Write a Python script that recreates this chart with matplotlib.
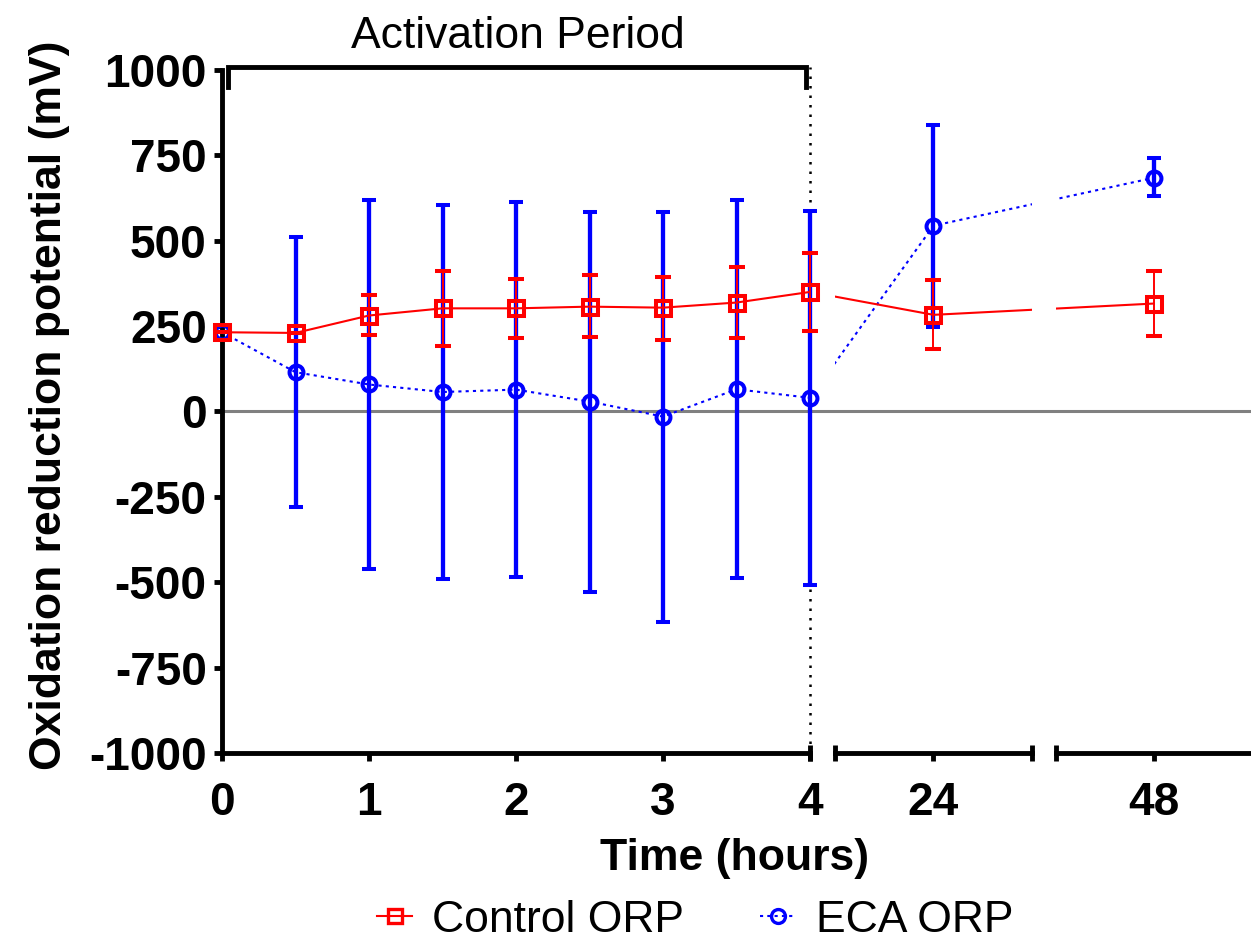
import matplotlib.pyplot as plt
import numpy as np
from matplotlib.lines import Line2D
from matplotlib.transforms import blended_transform_factory

plt.rcParams['font.family'] = ['Liberation Sans', 'DejaVu Sans']

# values (mV)
hours = [0, 0.5, 1, 1.5, 2, 2.5, 3, 3.5, 4, 24, 48]
control_mean = [232, 230, 281, 302, 302, 307, 304, 319, 350, 283, 316]
control_upper = [232, 230, 340, 410, 389, 401, 395, 423, 464, 384, 410]
control_lower = [232, 230, 223, 193, 214, 217, 208, 214, 235, 182, 220]
eca_mean = [232, 115, 79, 57, 64, 29, -15, 65, 40, 544, 684]
eca_upper = [232, 510, 618, 606, 613, 584, 584, 619, 587, 840, 741]
eca_lower = [232, -280, -462, -491, -485, -529, -617, -488, -507, 246, 630]

y_ticks = [-1000, -750, -500, -250, 0, 250, 500, 750, 1000]

# broken x axis: (hours from, hours to, position from, position to)
segments = [(0, 4, 0.0, 4.0), (20, 28, 4.17, 5.51), (44, 52, 5.673, 7.0)]
seg_ticks = [[0, 1, 2, 3, 4], [24], [48]]


def to_axis(h):
    for h0, h1, u0, u1 in segments:
        if h0 <= h <= h1:
            return u0 + (h - h0) * (u1 - u0) / (h1 - h0)
    return np.nan


u = np.array([to_axis(h) for h in hours])
cm, cu, cl = map(np.array, (control_mean, control_upper, control_lower))
em, eu, el = map(np.array, (eca_mean, eca_upper, eca_lower))

fig = plt.figure(figsize=(12.51, 9.47), dpi=100)
bottom, height = 0.2049, 0.7212
axes = [fig.add_axes([222 / 1251, bottom, 588 / 1251, height]),
        fig.add_axes([835 / 1251, bottom, 197 / 1251, height]),
        fig.add_axes([1056 / 1251, bottom, 195 / 1251, height])]

for k, (ax, (h0, h1, u0, u1)) in enumerate(zip(axes, segments)):
    ax.patch.set_visible(False)
    ax.set_xlim(u0, u1)
    ax.set_ylim(-1000, 1000)
    ax.spines['top'].set_visible(False)
    ax.spines['right'].set_visible(False)
    ax.spines['bottom'].set_linewidth(3.5)
    ax.spines['left'].set_linewidth(3.5)

    # connecting lines, clipped at each segment
    ax.plot(u, em, color='blue', ls=(0, (1.5, 2)), lw=1.5, zorder=3)
    ax.plot(u, cm, color='red', lw=1.5, zorder=5)

    idx = [i for i, h in enumerate(hours) if h0 <= h <= h1]
    eb = ax.errorbar(u[idx], em[idx], yerr=[em[idx] - el[idx], eu[idx] - em[idx]],
                     fmt='o', ms=10, mfc='none', mec='blue', mew=2.9,
                     ecolor='blue', elinewidth=3.1, capsize=4.7, capthick=2.6, zorder=4)
    for a in eb.get_children():
        a.set_clip_on(False)
    eb = ax.errorbar(u[idx], cm[idx], yerr=[cm[idx] - cl[idx], cu[idx] - cm[idx]],
                     fmt='s', ms=10.8, mfc='none', mec='red', mew=2.9,
                     ecolor='red', elinewidth=1.4, capsize=5.8, capthick=1.4, zorder=6)
    for a in eb.get_children():
        a.set_clip_on(False)

    ax.set_xticks([to_axis(t) for t in seg_ticks[k]], labels=[str(t) for t in seg_ticks[k]])
    ax.tick_params(axis='x', which='major', width=3.5, length=6, pad=14, labelsize=33)
    for lab in ax.get_xticklabels():
        lab.set_fontweight('bold')

    if k == 0:
        ax.set_yticks(y_ticks, labels=[str(t) for t in y_ticks])
        ax.tick_params(axis='y', width=3.5, length=6, pad=5, labelsize=33)
        for lab in ax.get_yticklabels():
            lab.set_fontweight('bold')
        ax.xaxis.remove_overlapping_locs = False
        ax.set_xticks([u1], minor=True)
    else:
        ax.spines['left'].set_visible(False)
        ax.tick_params(axis='y', left=False, labelleft=False)
        ax.set_xticks([u0, u1] if k == 1 else [u0], minor=True)
    ax.tick_params(axis='x', which='minor', direction='inout', width=3.5, length=12)

ax1 = axes[0]
# zero line running across the whole broken axis
ax1.axhline(0, xmin=0, xmax=(1251 - 222) / 588, color='#808080', lw=2.2, zorder=1, clip_on=False)
# end of activation period
ax1.axvline(4, ymin=0, ymax=1.004, color='black', ls=(0, (1, 2.8)), lw=1.8, zorder=2, clip_on=False)
tr = blended_transform_factory(ax1.transData, ax1.transAxes)
ax1.plot([0.04, 0.04, 3.973, 3.973], [0.975, 1.004, 1.004, 0.975], color='black', lw=3.5,
         transform=tr, clip_on=False, solid_joinstyle='miter')
fig.text(518 / 1251, 1 - 36 / 947, 'Activation Period', ha='center', va='center', fontsize=32)

fig.text(735 / 1251, 1 - 858 / 947, 'Time (hours)', ha='center', va='center',
         fontsize=32, fontweight='bold')
fig.text(50 / 1251, 1 - 405 / 947, 'Oxidation reduction potential (mV)', ha='center', va='center',
         rotation=90, fontsize=32, fontweight='bold')

handles = [Line2D([], [], color='red', lw=1.5, marker='s', ms=10, mfc='none', mew=2.4),
           Line2D([], [], color='blue', lw=1.5, ls=(0, (1.5, 2)), marker='o', ms=10, mfc='none', mew=2.4)]
fig.legend(handles, ['Control ORP', 'ECA ORP'], loc='center', bbox_to_anchor=(695 / 1251, 1 - 920 / 947),
           ncol=2, frameon=False, fontsize=32, handlelength=0.8, handletextpad=0.45,
           columnspacing=1.7, borderpad=0)

fig.savefig('out.png', dpi=100)
